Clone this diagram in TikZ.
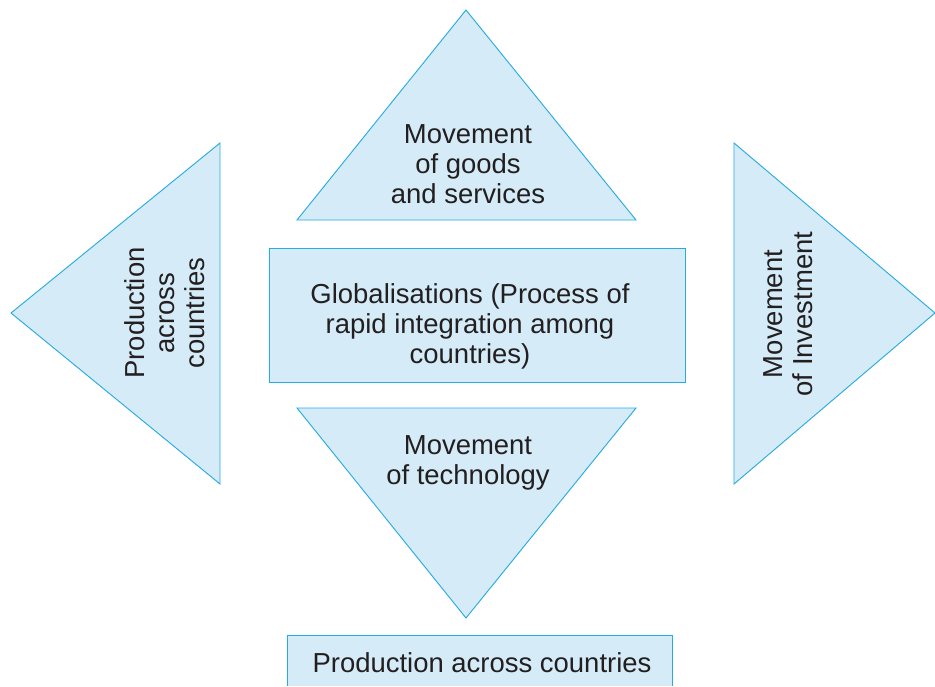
\documentclass[tikz,border=0pt]{standalone}
\usepackage{fontspec}
\setmainfont{Liberation Sans}
\usepackage{xcolor}
\definecolor{tribg}{HTML}{D5ECF8}
\definecolor{triline}{HTML}{29ABE2}
\definecolor{txtgray}{HTML}{231F20}
\tikzset{
  shapefill/.style={fill=tribg,draw=triline,line width=0.7pt,line join=miter},
  lbl/.style={align=center,text=txtgray,font=\fontsize{20.6}{22.5}\selectfont,inner sep=0pt}
}

\begin{document}
\begin{tikzpicture}[x=0.75pt,y=-0.75pt]
        \useasboundingbox (0,0) rectangle (935,686);
        % top triangle
        \draw[shapefill] (466,10) -- (636,220) -- (297,220) -- cycle;
        \node[lbl] (goods) at (468,164) {Movement\\of goods\\and services};
        % centre box
        \draw[shapefill] (269,248) rectangle (685,382);
        \node[lbl] (glob) at (470,326) {Globalisations (Process of\\rapid integration among\\countries)};
        % bottom triangle
        \draw[shapefill] (297,408) -- (636,408) -- (466,618) -- cycle;
        \node[lbl] (tech) at (468,463) {Movement\\of technology};
        % left triangle
        \draw[shapefill] (11,313) -- (220,143) -- (220,484) -- cycle;
        \node[lbl,rotate=90] (prodl) at (165,313) {Production\\across\\countries};
        % right triangle
        \draw[shapefill] (734,143) -- (935,313) -- (734,484) -- cycle;
        \node[lbl,rotate=90] (invest) at (788,314) {Movement\\of Investment};
        % bottom box, cut at the lower edge
        \fill[tribg] (287,635) rectangle (672,686);
        \draw[draw=triline,line width=0.7pt] (287,686) -- (287,635) -- (672,635) -- (672,686);
        \node[lbl] (prodb) at (482,663) {Production across countries};
\end{tikzpicture}
\end{document}
